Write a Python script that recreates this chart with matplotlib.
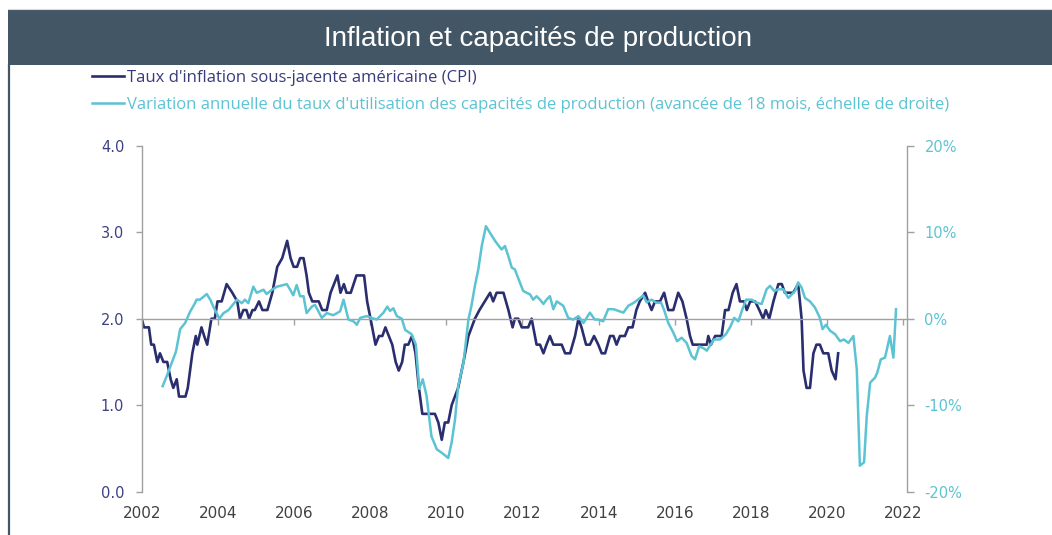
import matplotlib
matplotlib.use('Agg')
import matplotlib.pyplot as plt
from matplotlib.patches import Rectangle
from matplotlib.lines import Line2D

# ---------------- data ----------------
cpi_years = [2002.00, 2002.06, 2002.19, 2002.25, 2002.32, 2002.41, 2002.48, 2002.57, 2002.67,
             2002.76, 2002.83, 2002.92, 2002.98, 2003.15, 2003.21, 2003.33, 2003.42, 2003.46,
             2003.57, 2003.64, 2003.72, 2003.83, 2003.92, 2003.99, 2004.10, 2004.23, 2004.38,
             2004.51, 2004.58, 2004.67, 2004.75, 2004.82, 2004.91, 2004.97, 2005.08, 2005.17,
             2005.30, 2005.43, 2005.56, 2005.69, 2005.82, 2005.91, 2005.99, 2006.08, 2006.16,
             2006.25, 2006.33, 2006.39, 2006.48, 2006.65, 2006.74, 2006.86, 2006.96, 2007.14,
             2007.22, 2007.31, 2007.38, 2007.49, 2007.64, 2007.84, 2007.92, 2008.01, 2008.14,
             2008.23, 2008.32, 2008.40, 2008.49, 2008.58, 2008.67, 2008.75, 2008.84, 2008.91,
             2009.00, 2009.10, 2009.19, 2009.28, 2009.37, 2009.70, 2009.79, 2009.88, 2009.96,
             2010.05, 2010.14, 2010.31, 2010.45, 2010.58, 2010.75, 2010.87, 2011.01, 2011.15,
             2011.23, 2011.32, 2011.50, 2011.63, 2011.74, 2011.80, 2011.89, 2011.98, 2012.15,
             2012.24, 2012.37, 2012.46, 2012.55, 2012.63, 2012.72, 2012.81, 2013.03, 2013.12,
             2013.25, 2013.38, 2013.47, 2013.55, 2013.67, 2013.77, 2013.88, 2013.99, 2014.08,
             2014.17, 2014.30, 2014.39, 2014.47, 2014.56, 2014.69, 2014.78, 2014.89, 2014.99,
             2015.08, 2015.22, 2015.30, 2015.39, 2015.48, 2015.61, 2015.72, 2015.83, 2015.96,
             2016.09, 2016.20, 2016.31, 2016.40, 2016.47, 2016.84, 2016.88, 2016.95, 2017.06,
             2017.23, 2017.32, 2017.41, 2017.52, 2017.62, 2017.71, 2017.82, 2017.89, 2017.98,
             2018.11, 2018.22, 2018.32, 2018.39, 2018.48, 2018.59, 2018.72, 2018.81, 2018.89,
             2019.11, 2019.24, 2019.33, 2019.38, 2019.46, 2019.55, 2019.64, 2019.72, 2019.81,
             2019.90, 2020.03, 2020.12, 2020.22, 2020.29]
cpi_values = [2.0, 1.9, 1.9, 1.7, 1.7, 1.5, 1.6, 1.5, 1.5,
              1.3, 1.2, 1.3, 1.1, 1.1, 1.2, 1.6, 1.8, 1.7,
              1.9, 1.8, 1.7, 2.0, 2.0, 2.2, 2.2, 2.4, 2.3,
              2.2, 2.0, 2.1, 2.1, 2.0, 2.1, 2.1, 2.2, 2.1,
              2.1, 2.3, 2.6, 2.7, 2.9, 2.7, 2.6, 2.6, 2.7,
              2.7, 2.5, 2.3, 2.2, 2.2, 2.1, 2.1, 2.3, 2.5,
              2.3, 2.4, 2.3, 2.3, 2.5, 2.5, 2.2, 2.0, 1.7,
              1.8, 1.8, 1.9, 1.8, 1.7, 1.5, 1.4, 1.5, 1.7,
              1.7, 1.8, 1.6, 1.2, 0.9, 0.9, 0.8, 0.6, 0.8,
              0.8, 1.0, 1.2, 1.5, 1.8, 2.0, 2.1, 2.2, 2.3,
              2.2, 2.3, 2.3, 2.1, 1.9, 2.0, 2.0, 1.9, 1.9,
              2.0, 1.7, 1.7, 1.6, 1.7, 1.8, 1.7, 1.7, 1.6,
              1.6, 1.8, 2.0, 1.9, 1.7, 1.7, 1.8, 1.7, 1.6,
              1.6, 1.8, 1.8, 1.7, 1.8, 1.8, 1.9, 1.9, 2.1,
              2.2, 2.3, 2.2, 2.1, 2.2, 2.2, 2.3, 2.1, 2.1,
              2.3, 2.2, 2.0, 1.8, 1.7, 1.7, 1.8, 1.7, 1.8,
              1.8, 2.1, 2.1, 2.3, 2.4, 2.2, 2.2, 2.1, 2.2,
              2.2, 2.1, 2.0, 2.1, 2.0, 2.2, 2.4, 2.4, 2.3,
              2.3, 2.4, 2.0, 1.4, 1.2, 1.2, 1.6, 1.7, 1.7,
              1.6, 1.6, 1.4, 1.3, 1.6]

cu_years = [2002.55, 2002.66, 2002.79, 2002.90, 2003.01, 2003.14, 2003.27, 2003.40, 2003.44,
            2003.53, 2003.71, 2003.80, 2003.88, 2004.04, 2004.15, 2004.28, 2004.50, 2004.63,
            2004.71, 2004.80, 2004.93, 2005.02, 2005.20, 2005.28, 2005.42, 2005.55, 2005.81,
            2005.90, 2005.98, 2006.07, 2006.16, 2006.25, 2006.33, 2006.47, 2006.55, 2006.73,
            2006.86, 2007.03, 2007.21, 2007.30, 2007.43, 2007.56, 2007.65, 2007.74, 2007.91,
            2008.17, 2008.26, 2008.35, 2008.45, 2008.52, 2008.61, 2008.70, 2008.83, 2008.92,
            2009.09, 2009.20, 2009.29, 2009.38, 2009.48, 2009.61, 2009.75, 2009.88, 2010.05,
            2010.14, 2010.23, 2010.31, 2010.45, 2010.58, 2010.66, 2010.75, 2010.84, 2010.93,
            2011.04, 2011.15, 2011.28, 2011.45, 2011.54, 2011.63, 2011.72, 2011.80, 2011.93,
            2012.02, 2012.20, 2012.28, 2012.37, 2012.46, 2012.55, 2012.63, 2012.72, 2012.81,
            2012.90, 2013.07, 2013.20, 2013.33, 2013.47, 2013.60, 2013.77, 2013.90, 2013.99,
            2014.12, 2014.25, 2014.39, 2014.52, 2014.65, 2014.78, 2014.91, 2015.09, 2015.17,
            2015.26, 2015.39, 2015.52, 2015.64, 2015.72, 2015.83, 2015.96, 2016.06, 2016.18,
            2016.31, 2016.44, 2016.53, 2016.64, 2016.75, 2016.84, 2016.94, 2017.03, 2017.19,
            2017.34, 2017.45, 2017.56, 2017.67, 2017.76, 2017.87, 2018.02, 2018.15, 2018.28,
            2018.41, 2018.50, 2018.61, 2018.72, 2018.85, 2018.98, 2019.16, 2019.24, 2019.33,
            2019.42, 2019.55, 2019.68, 2019.81, 2019.88, 2019.97, 2020.08, 2020.21, 2020.34,
            2020.44, 2020.56, 2020.69, 2020.78, 2020.86, 2020.97, 2021.04, 2021.13, 2021.26,
            2021.32, 2021.41, 2021.52, 2021.65, 2021.74, 2021.81]
cu_values = [-7.8, -6.6, -5.1, -3.8, -1.2, -0.5, 0.8, 1.8, 2.2,
             2.2, 2.85, 2.2, 1.4, 0.0, 0.65, 1.0, 2.2, 1.8,
             2.2, 1.8, 3.7, 3.0, 3.35, 2.85, 3.35, 3.7, 4.0,
             3.35, 2.7, 3.9, 2.6, 2.6, 0.65, 1.4, 1.6, 0.1,
             0.65, 0.4, 0.85, 2.2, -0.1, -0.3, -0.7, 0.1, 0.3,
             -0.1, 0.3, 0.7, 1.4, 0.9, 1.2, 0.3, 0.0, -1.3,
             -1.8, -3.0, -8.1, -7.0, -8.9, -13.6, -15.1, -15.5, -16.1,
             -14.3, -11.6, -7.8, -5.1, -0.1, 1.5, 3.8, 5.7, 8.4,
             10.7, 9.9, 9.0, 8.0, 8.4, 7.2, 5.9, 5.7, 4.2,
             3.2, 2.8, 2.2, 2.6, 2.2, 1.7, 2.2, 2.6, 1.1,
             2.0, 1.5, 0.1, -0.1, 0.3, -0.5, 0.7, -0.1, -0.1,
             -0.3, 1.1, 1.1, 0.9, 0.7, 1.5, 1.8, 2.4, 2.7,
             1.9, 2.2, 1.85, 1.85, 1.0, -0.5, -1.6, -2.6, -2.2,
             -2.8, -4.3, -4.7, -3.2, -3.4, -3.7, -3.0, -2.4, -2.4,
             -1.8, -1.0, 0.1, -0.3, 0.9, 2.2, 2.2, 1.85, 1.7,
             3.4, 3.8, 3.2, 3.4, 3.4, 2.4, 3.2, 4.2, 3.6,
             2.4, 2.0, 1.3, 0.1, -1.2, -0.7, -1.4, -1.8, -2.6,
             -2.4, -2.8, -2.0, -5.9, -17.0, -16.6, -11.3, -7.4, -6.8,
             -6.2, -4.7, -4.5, -2.0, -4.5, 1.1]

x_ticks = [2002, 2004, 2006, 2008, 2010, 2012, 2014, 2016, 2018, 2020, 2022]
left_ticks = [0.0, 1.0, 2.0, 3.0, 4.0]
right_ticks = [-20, -10, 0, 10, 20]

title = "Inflation et capacités de production"
label_cpi = "Taux d'inflation sous-jacente américaine (CPI)"
label_cu = ("Variation annuelle du taux d'utilisation des capacités de production "
            "(avancée de 18 mois, échelle de droite)")

# ---------------- style ----------------
NAVY = '#2a2e6e'
CYAN = '#5cc3d3'
BAR = '#435666'
GRAY = '#a0a0a0'
LEFT_LBL = '#3d4283'
X_LBL = '#404040'

W, H = 1052, 535
fig = plt.figure(figsize=(W / 100, H / 100), dpi=100)


def fx(px):
    return px / W


def fy(py):
    return 1 - py / H


# title banner
fig.patches.append(Rectangle((fx(8), fy(65)), 1 - fx(8), fy(10) - fy(65),
                             transform=fig.transFigure, facecolor=BAR,
                             edgecolor='none', zorder=0))
fig.add_artist(Line2D([fx(8), 1], [fy(9), fy(9)], color='#d9d9d9', lw=0.8))
fig.add_artist(Line2D([fx(9), fx(9)], [fy(65), 0], color=BAR, lw=1.6))
fig.text(fx(538), fy(38.5), title, color='white', fontsize=20,
         family=['Liberation Sans', 'DejaVu Sans'], ha='center', va='center')

# axes
ax = fig.add_axes([fx(141.7), fy(491.7), fx(906.7) - fx(141.7), fy(145.7) - fy(491.7)])
ax2 = ax.twinx()

l1, = ax.plot(cpi_years, cpi_values, color=NAVY, lw=1.9, solid_joinstyle='round')
l2, = ax2.plot(cu_years, cu_values, color=CYAN, lw=1.8, solid_joinstyle='round')

ax.set_xlim(2002, 2022.09)
ax.set_ylim(0, 4)
ax2.set_ylim(-20, 20)

for s in ['top', 'right']:
    ax.spines[s].set_visible(False)
for s in ['top', 'left', 'bottom']:
    ax2.spines[s].set_visible(False)
ax.spines['left'].set_color(GRAY)
ax.spines['left'].set_linewidth(1.0)
ax2.spines['right'].set_color(GRAY)
ax2.spines['right'].set_linewidth(1.0)

# horizontal axis crossing at 2.0 / 0 %
ax.spines['bottom'].set_position(('data', 2.0))
ax.spines['bottom'].set_color(GRAY)
ax.spines['bottom'].set_linewidth(1.0)
ax.set_xticks(x_ticks)
ax.tick_params(axis='x', direction='out', length=4.3, width=1.0, color=GRAY,
               labelbottom=False)

sec = ax.secondary_xaxis('bottom')
sec.set_xticks(x_ticks)
sec.set_xticklabels([str(y) for y in x_ticks])
sec.tick_params(axis='x', length=0, pad=10.5, labelsize=11, labelcolor=X_LBL)
sec.spines['bottom'].set_visible(False)

ax.set_yticks(left_ticks)
ax.set_yticklabels([f'{v:.1f}' for v in left_ticks])
ax.tick_params(axis='y', direction='out', length=4, width=1.0, color=GRAY,
               pad=8.6, labelsize=10.5, labelcolor=LEFT_LBL)

ax2.set_yticks(right_ticks)
ax2.set_yticklabels([f'{v}%' for v in right_ticks])
ax2.tick_params(axis='y', direction='out', length=4.8, width=1.0, color=GRAY,
                pad=8, labelsize=10.5, labelcolor=CYAN)

# legend
leg = fig.legend(handles=[l1, l2], labels=[label_cpi, label_cu], loc='upper left',
                 bbox_to_anchor=(fx(91.7), fy(70)), frameon=False,
                 borderpad=0, borderaxespad=0, handlelength=1.95, handletextpad=0.18,
                 labelspacing=0.66, labelcolor='linecolor',
                 prop={'family': ['Open Sans', 'DejaVu Sans'], 'size': 12})
leg.get_texts()[0].set_color('#383c7c')

fig.savefig('out.png', dpi=100)
